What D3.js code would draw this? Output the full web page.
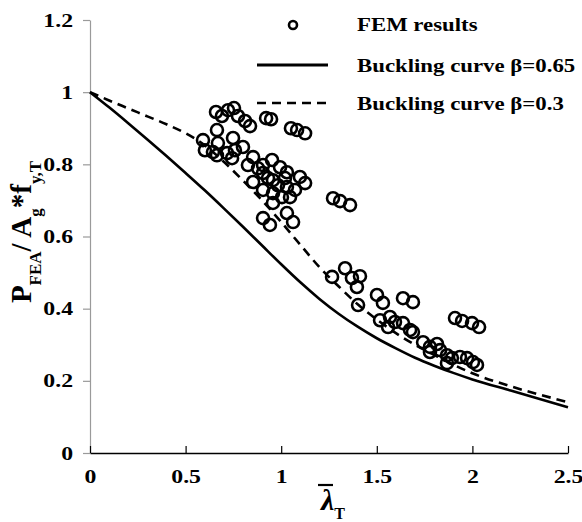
<!DOCTYPE html>
<html>
<head>
<meta charset="utf-8">
<script src="https://cdn.jsdelivr.net/npm/d3@7/dist/d3.min.js"></script>
<style>
  html, body { margin: 0; padding: 0; background: #fff; }
  svg text { font-family: "Liberation Serif", "Times New Roman", serif; font-weight: bold; fill: #000; }
</style>
</head>
<body>
<svg id="chart" width="582" height="522"></svg>
<script>
// ---------- data ----------
const xTicks = [0, 0.5, 1, 1.5, 2, 2.5];
const yTicks = [0, 0.2, 0.4, 0.6, 0.8, 1, 1.2];

// Buckling curve beta = 0.65 (solid)
const curve065X = [0, 0.1, 0.2, 0.3, 0.4, 0.5, 0.6, 0.7, 0.8, 0.9, 1.0, 1.1, 1.2, 1.3, 1.4, 1.5, 1.6, 1.7, 1.8, 1.9, 2.0, 2.2, 2.5];
const curve065Y = [1, 0.958, 0.914, 0.869, 0.823, 0.776, 0.728, 0.678, 0.627, 0.575, 0.523, 0.473, 0.427, 0.386, 0.350, 0.318, 0.290, 0.264, 0.242, 0.222, 0.204, 0.173, 0.127];

// Buckling curve beta = 0.3 (dashed)
const curve03X = [0, 0.1, 0.2, 0.3, 0.4, 0.5, 0.6, 0.7, 0.8, 0.9, 1.0, 1.1, 1.2, 1.3, 1.4, 1.5, 1.6, 1.7, 1.8, 1.9, 2.0, 2.2, 2.5];
const curve03Y = [1, 0.977, 0.955, 0.933, 0.911, 0.886, 0.853, 0.807, 0.755, 0.700, 0.640, 0.577, 0.515, 0.462, 0.412, 0.370, 0.332, 0.300, 0.272, 0.245, 0.221, 0.185, 0.141];

// FEM results
const femX = [
  0.659, 0.690, 0.722, 0.753, 0.774, 0.811, 0.837, 0.921, 0.947, 1.051, 1.083, 1.125,
  0.591, 0.601, 0.664, 0.669, 0.664, 0.748, 0.758, 0.800, 0.717, 0.743, 0.643,
  0.853, 0.905, 0.952, 0.994, 1.030, 1.098, 1.125, 0.853, 0.905, 0.905, 0.957, 1.004, 1.030, 1.046, 0.957, 0.957, 0.931, 0.983, 1.072, 0.879, 0.826, 1.020,
  0.905, 0.941, 1.030, 1.062,
  1.271, 1.308, 1.360,
  1.334, 1.266, 1.370, 1.412, 1.396, 1.402,
  1.501, 1.532, 1.569, 1.559, 1.517, 1.637, 1.689, 1.637, 1.674, 1.689, 1.595,
  1.742, 1.778, 1.815, 1.831, 1.778, 1.867, 1.893, 1.935, 1.972, 2.003, 2.024, 1.867,
  1.909, 1.946, 1.998, 2.035
];
const femY = [
  0.945, 0.934, 0.950, 0.956, 0.934, 0.920, 0.906, 0.928, 0.925, 0.900, 0.895, 0.886,
  0.867, 0.839, 0.895, 0.859, 0.825, 0.873, 0.839, 0.848, 0.831, 0.817, 0.834,
  0.820, 0.798, 0.812, 0.792, 0.778, 0.765, 0.748, 0.751, 0.729, 0.776, 0.756, 0.709, 0.737, 0.709, 0.720, 0.693, 0.762, 0.742, 0.729, 0.789, 0.798, 0.762,
  0.651, 0.632, 0.665, 0.640,
  0.706, 0.698, 0.687,
  0.512, 0.488, 0.485, 0.490, 0.460, 0.410,
  0.438, 0.416, 0.377, 0.349, 0.368, 0.429, 0.418, 0.360, 0.341, 0.335, 0.363,
  0.307, 0.294, 0.302, 0.285, 0.280, 0.271, 0.263, 0.266, 0.263, 0.252, 0.244, 0.249,
  0.374, 0.366, 0.360, 0.349
];

const legendLabels = ["FEM results", "Buckling curve \u03B2=0.65", "Buckling curve \u03B2=0.3"];

// ---------- drawing ----------
const svg = d3.select("#chart");
const x = d3.scaleLinear().domain([0, 2.5]).range([90, 568]);
const y = d3.scaleLinear().domain([0, 1.2]).range([453, 20]);

function stretch(sel, k) {
  sel.each(function () {
    const w = this.getComputedTextLength();
    d3.select(this).attr("textLength", w * k).attr("lengthAdjust", "spacingAndGlyphs");
  });
}

// y axis (grey)
const yAxis = svg.append("g")
  .attr("transform", `translate(${x(0)},0)`)
  .call(d3.axisLeft(y).tickValues(yTicks).tickFormat(d3.format("")).tickSize(7).tickSizeOuter(0).tickPadding(10));
yAxis.select(".domain").attr("stroke", "#9a9a9a").attr("stroke-width", 1.2);
yAxis.selectAll(".tick line").attr("stroke", "#9a9a9a").attr("stroke-width", 1.2);
yAxis.selectAll(".tick text").style("font-size", "19px").style("font-family", "Liberation Serif, serif").style("font-weight", "bold");
stretch(yAxis.selectAll(".tick text"), 1.25);

// x axis (black, ticks upward)
const xAxis = svg.append("g")
  .attr("transform", `translate(0,${y(0)})`)
  .call(d3.axisBottom(x).tickValues(xTicks).tickFormat(d3.format("")).tickSizeInner(-7).tickSizeOuter(0).tickPadding(17));
xAxis.select(".domain").attr("stroke", "#000").attr("stroke-width", 1.3);
xAxis.selectAll(".tick line").attr("stroke", "#000").attr("stroke-width", 1.2);
xAxis.selectAll(".tick text").style("font-size", "19px").style("font-family", "Liberation Serif, serif").style("font-weight", "bold");
stretch(xAxis.selectAll(".tick text"), 1.25);

// curves
const line = d3.line().x(d => x(d[0])).y(d => y(d[1])).curve(d3.curveMonotoneX);
svg.append("path")
  .datum(curve065X.map((v, i) => [v, curve065Y[i]]))
  .attr("d", line).attr("fill", "none").attr("stroke", "#000").attr("stroke-width", 2.6);
svg.append("path")
  .datum(curve03X.map((v, i) => [v, curve03Y[i]]))
  .attr("d", line).attr("fill", "none").attr("stroke", "#000").attr("stroke-width", 2.6)
  .attr("stroke-dasharray", "9,6");

// FEM circles
svg.append("g").selectAll("circle")
  .data(femX.map((v, i) => [v, femY[i]]))
  .join("circle")
  .attr("cx", d => x(d[0])).attr("cy", d => y(d[1]))
  .attr("r", 6).attr("fill", "none").attr("stroke", "#000").attr("stroke-width", 2.6);

// legend
const lg = svg.append("g");
lg.append("circle").attr("cx", 293).attr("cy", 25).attr("r", 4)
  .attr("fill", "none").attr("stroke", "#000").attr("stroke-width", 2.6);
lg.append("line").attr("x1", 257).attr("x2", 328).attr("y1", 65).attr("y2", 65)
  .attr("stroke", "#000").attr("stroke-width", 2.8);
lg.append("line").attr("x1", 257).attr("x2", 330).attr("y1", 103).attr("y2", 103)
  .attr("stroke", "#000").attr("stroke-width", 2.6).attr("stroke-dasharray", "9,6");
const ly = [31, 72, 110];
legendLabels.forEach((t, i) => {
  const tx = lg.append("text").attr("x", 357).attr("y", ly[i]).style("font-size", "19px").text(t);
  stretch(tx, 1.2);
});

// y axis label
const yl = svg.append("text")
  .attr("transform", "translate(31,232) rotate(-90)")
  .attr("text-anchor", "middle")
  .style("font-size", "29px");
yl.append("tspan").text("P");
yl.append("tspan").attr("baseline-shift", "sub").style("font-size", "17px").text("FEA");
yl.append("tspan").text("/ A");
yl.append("tspan").attr("baseline-shift", "sub").style("font-size", "17px").text("g");
yl.append("tspan").text("*f");
yl.append("tspan").attr("baseline-shift", "sub").style("font-size", "17px").text("y,T");

// x axis label
const xl = svg.append("text")
  .attr("x", 333).attr("y", 510)
  .attr("text-anchor", "middle")
  .style("font-size", "30px");
xl.append("tspan").style("font-style", "italic").text("\u03BB");
xl.append("tspan").attr("baseline-shift", "sub").style("font-size", "16px").text("T");
svg.append("line").attr("x1", 318).attr("x2", 333).attr("y1", 485).attr("y2", 485)
  .attr("stroke", "#000").attr("stroke-width", 2.2);
</script>
</body>
</html>
